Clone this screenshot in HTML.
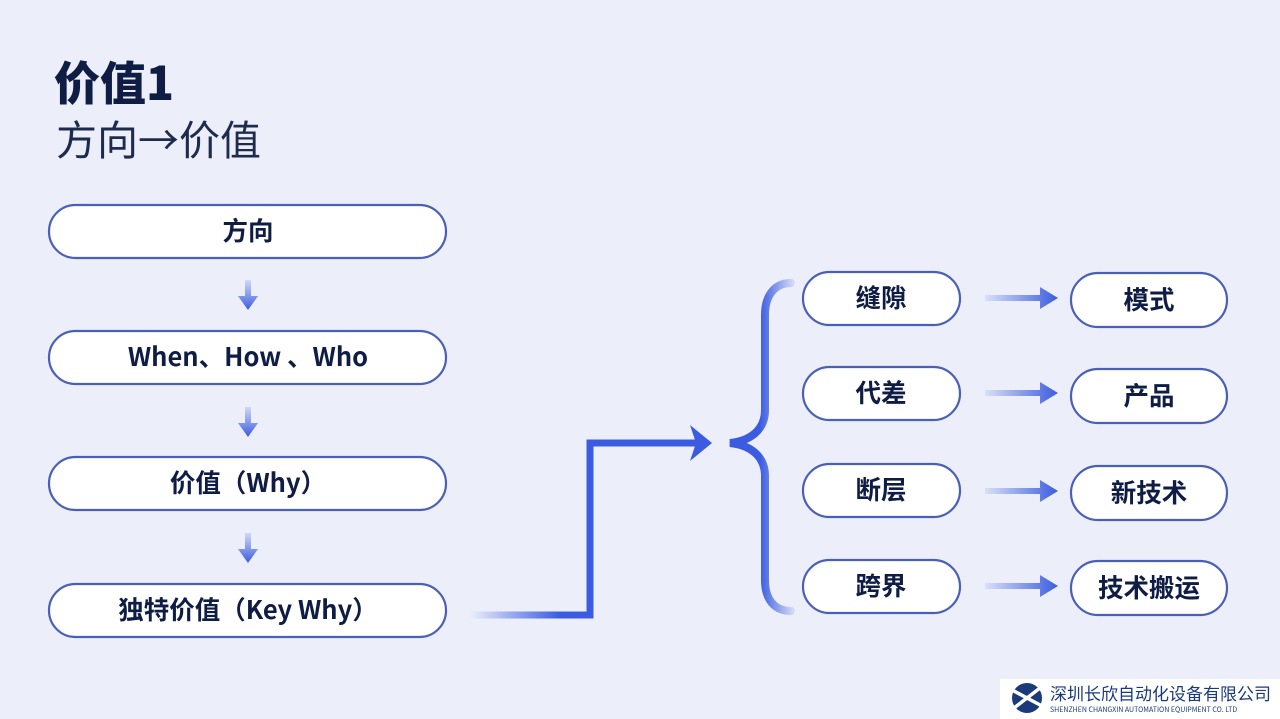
<!DOCTYPE html>
<html><head><meta charset="utf-8"><style>
html,body{margin:0;padding:0;background:#eceff9;}
svg{display:block}
text{font-family:"Noto Sans CJK SC","Liberation Sans",sans-serif;}
</style></head><body>
<svg width="1280" height="719" viewBox="0 0 1280 719" xmlns="http://www.w3.org/2000/svg">
<defs>
<linearGradient id="gd" x1="0" y1="0" x2="0" y2="1"><stop offset="0" stop-color="#3b5ce0" stop-opacity="0.15"/><stop offset="1" stop-color="#3b5ce0"/></linearGradient>
<linearGradient id="gh" x1="0" y1="0" x2="1" y2="0"><stop offset="0" stop-color="#3b5ce0" stop-opacity="0.1"/><stop offset="1" stop-color="#3b5ce0"/></linearGradient>
<linearGradient id="gc" gradientUnits="userSpaceOnUse" x1="470" y1="0" x2="560" y2="0"><stop offset="0" stop-color="#3b5ce0" stop-opacity="0"/><stop offset="1" stop-color="#3b5ce0"/></linearGradient>
<linearGradient id="gb" gradientUnits="userSpaceOnUse" x1="760" y1="0" x2="795" y2="0"><stop offset="0" stop-color="#3b5ce0"/><stop offset="1" stop-color="#3b5ce0" stop-opacity="0.1"/></linearGradient>
</defs>
<rect width="1280" height="719" fill="#eceff9"/>
<text x="54" y="100" font-size="46" font-weight="900" fill="#0f1d45">价值1</text>
<text x="56" y="155" font-size="41" fill="#1e2b4d">方向→价值</text>

<g fill="#fff" stroke="#4a60b8" stroke-width="2.2">
<rect x="49" y="205" width="397" height="53" rx="26.5"/>
<rect x="49" y="331" width="397" height="53" rx="26.5"/>
<rect x="49" y="457" width="397" height="53" rx="26.5"/>
<rect x="49" y="584" width="397" height="53" rx="26.5"/>
<rect x="803" y="272" width="157" height="53" rx="26.5"/>
<rect x="803" y="367" width="157" height="53" rx="26.5"/>
<rect x="803" y="464" width="157" height="53" rx="26.5"/>
<rect x="803" y="560" width="157" height="53" rx="26.5"/>
<rect x="1071" y="273" width="156" height="54" rx="27"/>
<rect x="1071" y="369" width="156" height="54" rx="27"/>
<rect x="1071" y="466" width="156" height="54" rx="27"/>
<rect x="1071" y="561" width="156" height="54" rx="27"/>
</g>
<g font-size="25.5" font-weight="bold" fill="#0f1d45" text-anchor="middle">
<text x="248" y="240">方向</text>
<text x="248" y="366">When、How 、Who</text>
<text x="248" y="492">价值（Why）</text>
<text x="248" y="619">独特价值（Key Why）</text>
<text x="881" y="307">缝隙</text>
<text x="881" y="402">代差</text>
<text x="881" y="499">断层</text>
<text x="881" y="595">跨界</text>
<text x="1149" y="309">模式</text>
<text x="1149" y="405">产品</text>
<text x="1149" y="502">新技术</text>
<text x="1149" y="597">技术搬运</text>
</g>

<g fill="url(#gd)">
<path d="M245 280h6v16h7l-10 14-10-14h7z"/>
<path d="M245 407h6v16h7l-10 14-10-14h7z"/>
<path d="M245 533h6v16h7l-10 14-10-14h7z"/>
</g>
<g fill="url(#gh)">
<path d="M985 295h55v-8l18 11-18 11v-8h-55z"/>
<path d="M985 390h55v-8l18 11-18 11v-8h-55z"/>
<path d="M985 488h55v-8l18 11-18 11v-8h-55z"/>
<path d="M985 583h55v-8l18 11-18 11v-8h-55z"/>
</g>

<path d="M470 615H590V443H695" fill="none" stroke="url(#gc)" stroke-width="7"/>
<path d="M590 611.5V443" stroke="#3b5ce0" stroke-width="7"/>
<path d="M589 443H698" stroke="#3b5ce0" stroke-width="7"/>
<path d="M690 425L712 443L690 461L696 443Z" fill="#3b5ce0"/>

<path d="M791 283C775 283 765 295 765 315V410C765 430 750 441 730 443C750 445 765 456 765 476V580C765 600 775 611 791 611" fill="none" stroke="url(#gb)" stroke-width="8" stroke-linecap="round"/>

<rect x="1000" y="679" width="280" height="40" fill="#fff"/>
<circle cx="1027" cy="698" r="15" fill="#1b3a7a"/>
<path d="M1012 690L1042 706M1014 708L1040 688" stroke="#fff" stroke-width="3.5"/>
<text x="1050" y="700" font-size="17" fill="#1b3a7a">深圳长欣自动化设备有限公司</text>
<text x="1050" y="712" font-size="7" fill="#1b3a7a">SHENZHEN CHANGXIN AUTOMATION EQUIPMENT CO. LTD</text>
</svg>
</body></html>
